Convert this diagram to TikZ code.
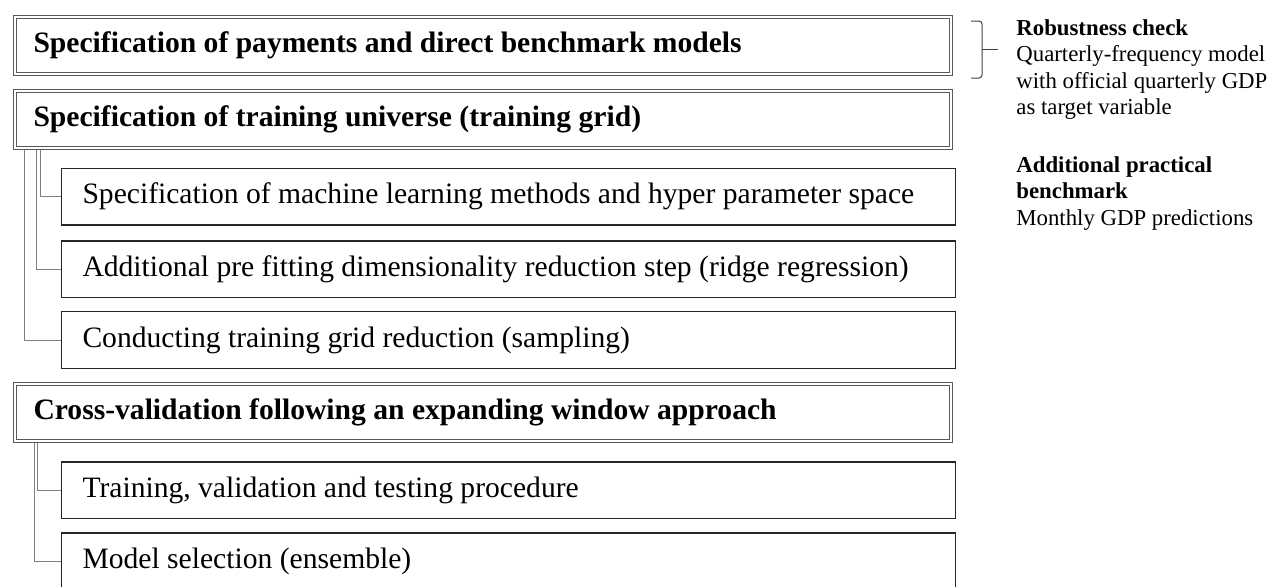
\documentclass[tikz,border=0pt]{standalone}
\usepackage{fontspec}
\setmainfont{Liberation Serif}
\usetikzlibrary{positioning}

\tikzset{
  stage/.style={draw=black!65, double=white, double distance=1pt, line width=0.5pt,
    minimum width=468pt, minimum height=28.5pt, text width=449pt, inner xsep=9.5pt,
    align=flush left, font=\fontsize{14.8}{17}\selectfont\bfseries},
  task/.style={draw=black!85, line width=0.7pt, minimum width=447.2pt, minimum height=28.3pt,
    text width=426pt, inner xsep=10.6pt, align=flush left, font=\fontsize{14.8}{17}\selectfont},
  link/.style={draw=black!50, line width=0.5pt},
  aside/.style={anchor=north west, inner sep=0pt, align=flush left, font=\fontsize{11.4}{13.25}\selectfont}
}

\begin{document}
\begin{tikzpicture}[x=0.5pt,y=-0.5pt]
  \useasboundingbox (0,0) rectangle (1269,586);

  % main stages and their steps
  \node[stage, anchor=north west] (payments) at (14,16) {Specification of payments and direct benchmark models};
  \node[stage, below=8pt of payments] (universe) {Specification of training universe (training grid)};
  \node[task, below right=9.8pt and 23.3pt of universe.south west] (methods) {Specification of machine learning methods and hyper parameter space};
  \node[task, below=7.3pt of methods] (ridge) {Additional pre fitting dimensionality reduction step (ridge regression)};
  \node[task, below=6.4pt of ridge] (sampling) {Conducting training grid reduction (sampling)};
  \node[stage, below=7.1pt of sampling.south west, anchor=north west, xshift=-23.3pt] (crossval) {Cross-validation following an expanding window approach};
  \node[task, below right=10.1pt and 23.3pt of crossval.south west] (testing) {Training, validation and testing procedure};
  \node[task, below=6.5pt of testing] (ensemble) {Model selection (ensemble)};

  \draw[link] ([xshift=13pt,yshift=-1pt]universe.south west) |- (methods.west);
  \draw[link] ([xshift=11pt,yshift=-1pt]universe.south west) |- (ridge.west);
  \draw[link] ([xshift=5pt,yshift=-1pt]universe.south west) |- (sampling.west);
  \draw[link] ([xshift=11.5pt,yshift=-1pt]crossval.south west) |- (testing.west);
  \draw[link] ([xshift=10pt,yshift=-1pt]crossval.south west) |- (ensemble.west);

  % notes on the right
  \coordinate (bracetop) at ([xshift=10pt,yshift=-2.5pt]payments.north east);
  \coordinate (bracebot) at ([xshift=10pt,yshift=-2pt]payments.south east);
  \coordinate (bracemid) at ([xshift=15.5pt,yshift=-2pt]payments.east);
  \coordinate (braceend) at ([xshift=23.5pt,yshift=-2pt]payments.east);
  \draw[black!75, line width=0.5pt, rounded corners=1.5pt] (bracetop) -| (bracemid) |- (bracebot);
  \draw[black!75, line width=0.5pt] (bracemid) -- (braceend);

  \node[aside] (robust) at (1016,19) {\textbf{Robustness check}\\Quarterly-frequency model\\with official quarterly GDP\\as target variable};
  \node[aside] (practical) at (1016,156) {\textbf{Additional practical}\\\textbf{benchmark}\\Monthly GDP predictions};
\end{tikzpicture}
\end{document}
